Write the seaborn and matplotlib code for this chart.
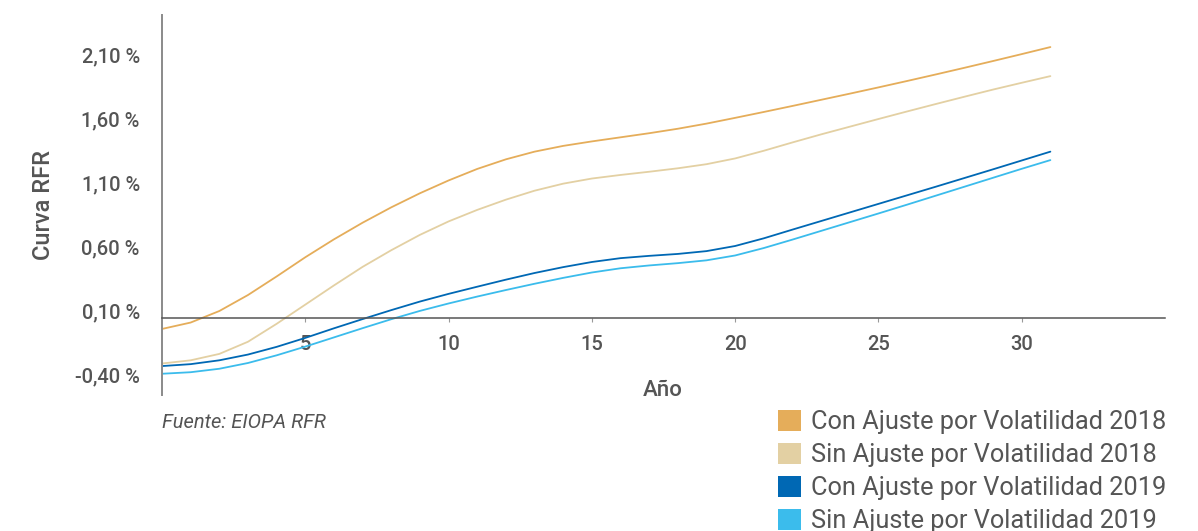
import numpy as np
import pandas as pd
import seaborn as sns
import matplotlib
matplotlib.use("Agg")
import matplotlib.pyplot as plt
from matplotlib.patches import Patch

# ---------------- data ----------------
years = list(range(0, 32))
con_2018 = [-0.04, 0.01, 0.10, 0.225, 0.37, 0.52, 0.66, 0.79, 0.91, 1.02, 1.12, 1.21,
            1.285, 1.345, 1.39, 1.425, 1.457, 1.489, 1.524, 1.564, 1.609, 1.655, 1.702, 1.75,
            1.798, 1.847, 1.897, 1.948, 2.00, 2.053, 2.107, 2.162]
sin_2018 = [-0.31, -0.285, -0.235, -0.14, 0.0, 0.15, 0.30, 0.445, 0.575, 0.695, 0.80, 0.89,
            0.97, 1.04, 1.095, 1.135, 1.163, 1.188, 1.215, 1.247, 1.292, 1.352, 1.417, 1.48,
            1.54, 1.60, 1.659, 1.717, 1.774, 1.83, 1.883, 1.935]
con_2019 = [-0.33, -0.315, -0.285, -0.24, -0.18, -0.11, -0.035, 0.037, 0.107, 0.174, 0.234, 0.29,
            0.345, 0.397, 0.443, 0.483, 0.513, 0.531, 0.546, 0.568, 0.608, 0.668, 0.736, 0.803,
            0.87, 0.937, 1.004, 1.071, 1.139, 1.207, 1.276, 1.345]
sin_2019 = [-0.39, -0.378, -0.351, -0.306, -0.246, -0.178, -0.106, -0.034, 0.036, 0.101, 0.159, 0.213,
            0.264, 0.313, 0.359, 0.401, 0.434, 0.456, 0.474, 0.496, 0.534, 0.592, 0.658, 0.726,
            0.794, 0.862, 0.931, 1.001, 1.071, 1.141, 1.211, 1.279]

series_names = ["Con Ajuste por Volatilidad 2018", "Sin Ajuste por Volatilidad 2018",
                "Con Ajuste por Volatilidad 2019", "Sin Ajuste por Volatilidad 2019"]
series_colors = ["#E5AD5A", "#E3D0A3", "#0068B4", "#3BBCEC"]
y_ticks = [-0.40, 0.10, 0.60, 1.10, 1.60, 2.10]
x_ticks = [5, 10, 15, 20, 25, 30]

df = pd.DataFrame({
    "Año": years * 4,
    "valor": con_2018 + sin_2018 + con_2019 + sin_2019,
    "serie": sum([[n] * len(years) for n in series_names], []),
})

# ---------------- style ----------------
sns.set_theme(style="white")
plt.rcParams["font.family"] = ["Roboto", "DejaVu Sans"]
txt = "#555555"

fig = plt.figure(figsize=(11.98, 5.31), dpi=100)
ax = fig.add_axes([162 / 1198, 1 - 395 / 531, (1165 - 162) / 1198, (395 - 15) / 531])

sns.lineplot(data=df, x="Año", y="valor", hue="serie", hue_order=series_names,
             palette=series_colors, linewidth=1.3, legend=False, ax=ax)

ax.set_xlim(0, 35)
ax.set_ylim(-0.556, 2.4125)

for s in ["top", "right"]:
    ax.spines[s].set_visible(False)
ax.spines["left"].set_color("#8a8a8a")
ax.spines["left"].set_linewidth(1.4)
ax.spines["bottom"].set_position(("data", 0.045))
ax.spines["bottom"].set_color("#555555")
ax.spines["bottom"].set_linewidth(1.1)

ax.set_xticks(x_ticks)
ax.set_xticklabels([str(v) for v in x_ticks])
ax.set_yticks(y_ticks)
ax.set_yticklabels([f"{v:.2f}".replace(".", ",") + " %" for v in y_ticks])
ax.tick_params(axis="x", length=3, width=0.8, color="#999999", pad=9,
               labelsize=14.5, labelcolor=txt, bottom=True)
ax.tick_params(axis="y", length=0, pad=16, labelsize=14.5, labelcolor=txt, left=False)
for lab in ax.get_xticklabels() + ax.get_yticklabels():
    lab.set_fontweight("medium")

ax.set_xlabel("")
ax.set_ylabel("Curva RFR", fontsize=17, color=txt, labelpad=14, fontweight="medium")

fig.text(663 / 1198, 1 - 391 / 531, "Año", ha="center", va="center",
         fontsize=16, color=txt, fontweight="medium")
fig.text(162 / 1198, 1 - 423 / 531, "Fuente: EIOPA RFR", ha="left", va="center",
         fontsize=14.5, color=txt, style="italic")

handles = [Patch(facecolor=c, edgecolor="none") for c in series_colors]
fig.legend(handles, series_names, loc="upper right",
           bbox_to_anchor=(1166 / 1198, 1 - 410 / 531), frameon=False,
           fontsize=18.3, labelcolor=txt, handlelength=0.9, handleheight=0.9,
           handletextpad=0.4, labelspacing=0.34, borderpad=0, borderaxespad=0)

fig.savefig("out.png", dpi=100, facecolor="white")
